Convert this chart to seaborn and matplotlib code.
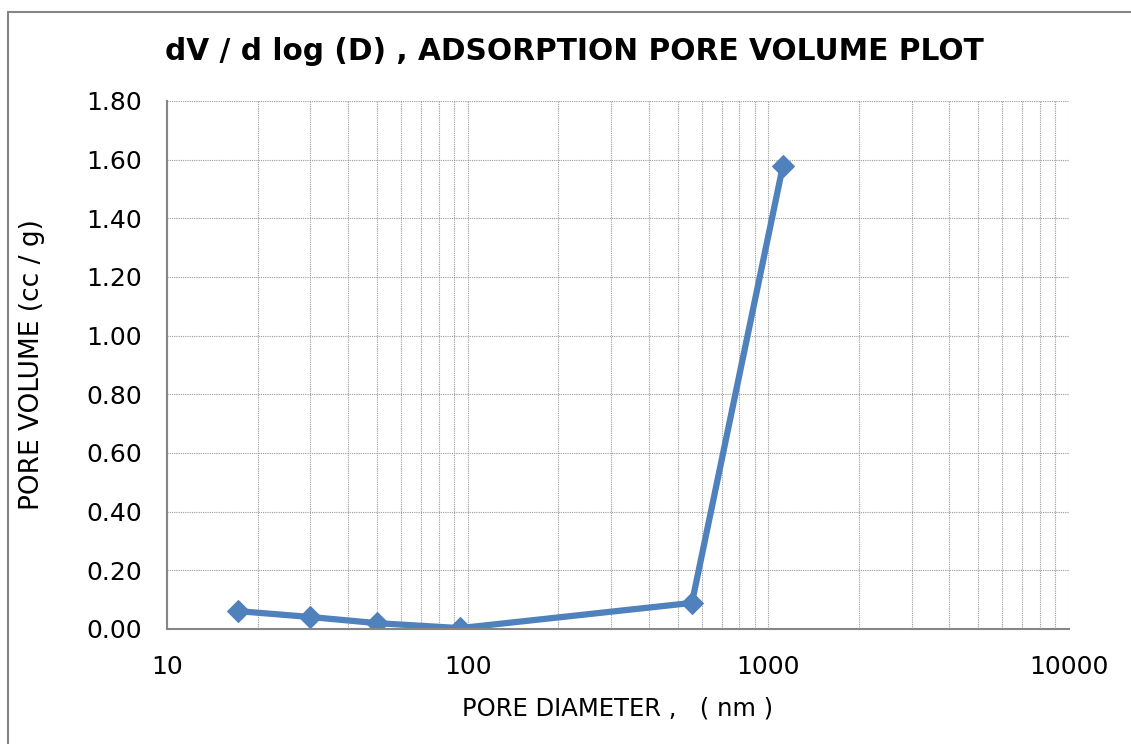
import matplotlib
matplotlib.use("Agg")
import matplotlib.pyplot as plt
import seaborn as sns
import pandas as pd
from matplotlib.patches import Rectangle
from matplotlib.ticker import FixedLocator, LogLocator, NullFormatter

diameter_nm = [17.2, 29.9, 49.9, 94.3, 557, 1118]
pore_volume = [0.061, 0.041, 0.020, 0.003, 0.089, 1.579]
y_ticks = [0.0, 0.2, 0.4, 0.6, 0.8, 1.0, 1.2, 1.4, 1.6, 1.8]
x_ticks = [10, 100, 1000, 10000]

df = pd.DataFrame({"d": diameter_nm, "v": pore_volume})

sns.set_style("white")
plt.rcParams["font.family"] = ["DejaVu Sans"]
plt.rcParams["text.color"] = "black"
plt.rcParams["axes.labelcolor"] = "black"
plt.rcParams["xtick.color"] = "black"
plt.rcParams["ytick.color"] = "black"

fig = plt.figure(figsize=(11.31, 7.44), dpi=100)
ax = fig.add_axes([167/1131, 1-629/744, (1069-167)/1131, (629-101)/744])

sns.lineplot(data=df, x="d", y="v", ax=ax, color="#4F81BD", linewidth=4.5,
             marker="D", markersize=11, markeredgecolor="#4F81BD")

ax.set_xscale("log")
ax.set_xlim(10, 10000)
ax.set_ylim(0, 1.8)
ax.xaxis.set_major_locator(FixedLocator(x_ticks))
ax.set_xticklabels([str(t) for t in x_ticks])
ax.xaxis.set_minor_locator(LogLocator(base=10, subs=range(2, 10)))
ax.xaxis.set_minor_formatter(NullFormatter())
ax.set_yticks(y_ticks)
ax.set_yticklabels([f"{t:.2f}" for t in y_ticks])

ax.grid(True, which="both", axis="x", color="#9A9A9A", linestyle=(0, (1, 1)), linewidth=0.8)
ax.grid(True, which="major", axis="y", color="#9A9A9A", linestyle=(0, (1, 1)), linewidth=0.8)
ax.set_axisbelow(True)

for s in ["top", "right"]:
    ax.spines[s].set_visible(False)
for s in ["left", "bottom"]:
    ax.spines[s].set_color("#868686")
    ax.spines[s].set_linewidth(1.5)

ax.tick_params(axis="x", which="major", direction="inout", length=10, width=1.5,
               color="#868686", labelsize=18, pad=14, labelcolor="black")
ax.tick_params(axis="x", which="minor", length=0)
ax.tick_params(axis="y", which="major", direction="inout", length=10, width=1.5,
               color="#868686", labelsize=18, pad=13, labelcolor="black")

ax.set_xlabel("PORE DIAMETER ,   ( nm )", fontsize=17.5, labelpad=12)
ax.set_ylabel("PORE VOLUME (cc / g)", fontsize=19, labelpad=30)
fig.text(574/1131, 1-52/744, "dV / d log (D) , ADSORPTION PORE VOLUME PLOT",
         ha="center", va="center", fontsize=21.3, fontweight="bold")

fig.patches.append(Rectangle((8/1131, -0.05), 1.2, 1-12/744+0.05,
                             transform=fig.transFigure, fill=False,
                             edgecolor="#868686", linewidth=1.5))

fig.savefig("out.png", dpi=100)
